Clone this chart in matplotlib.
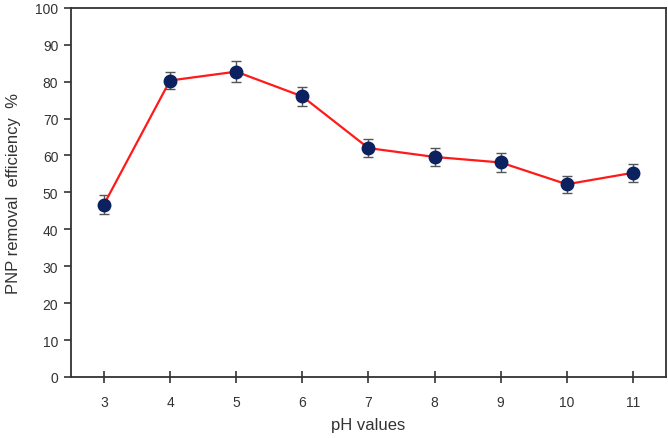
import matplotlib.pyplot as plt

plt.rcParams['font.family'] = ['Liberation Sans', 'DejaVu Sans']

# data
ph = [3, 4, 5, 6, 7, 8, 9, 10, 11]
removal = [46.7, 80.3, 82.7, 76.0, 62.0, 59.6, 58.1, 52.2, 55.3]
err = [2.6, 2.4, 2.8, 2.5, 2.4, 2.5, 2.6, 2.3, 2.4]

fig = plt.figure(figsize=(6.68, 4.39), dpi=100)
ax = fig.add_axes([0.106, 0.139, 0.891, 0.841])

ax.errorbar(ph, removal, yerr=err, color='#ff1a1a', lw=1.6,
            marker='o', ms=9, mfc='#0b2160', mec='#0b2160',
            ecolor='#555555', elinewidth=1.0, capsize=3.5, capthick=1.0,
            zorder=3)

ax.set_xlim(2.5, 11.5)
ax.set_ylim(0, 100)
ax.set_xticks(ph)
ax.set_yticks(range(0, 101, 10))
ax.tick_params(axis='x', direction='inout', length=8, width=1.2,
               labelsize=10, pad=9, colors='#333333')
ax.tick_params(axis='y', direction='out', length=5, width=1.2,
               labelsize=10, pad=4, colors='#333333')
for s in ax.spines.values():
    s.set_color('#333333')
    s.set_linewidth(1.3)

ax.set_xlabel('pH values', fontsize=12, color='#333333', labelpad=6)
ax.set_ylabel('PNP removal  efficiency  %', fontsize=12, color='#333333', labelpad=10)

fig.savefig('out.png', dpi=100)
